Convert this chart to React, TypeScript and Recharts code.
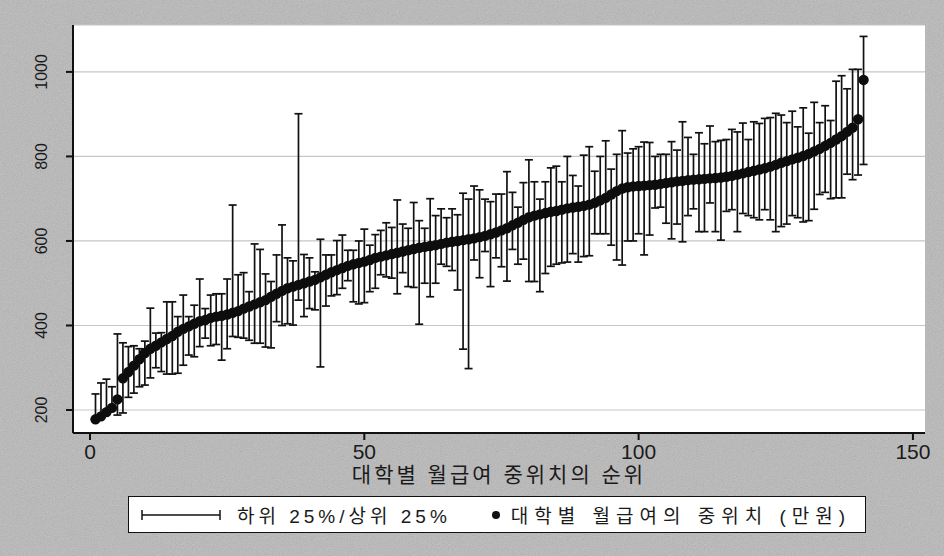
import React from "react";
import { ScatterChart, Scatter, XAxis, YAxis, CartesianGrid, ErrorBar } from "recharts";

// 대학별 월급여 중위치 (만원), 순위 1..141
const medians = [
  178, 185, 195, 205, 225, 275, 290, 305, 320, 335,
  345, 352, 360, 368, 375, 385, 392, 398, 404, 410,
  413, 418, 421, 423, 426, 430, 434, 440, 445, 450,
  455, 460, 468, 475, 482, 488, 492, 496, 500, 504,
  508, 514, 520, 526, 531, 536, 541, 545, 548, 551,
  555, 560, 563, 566, 569, 572, 575, 578, 581, 584,
  586, 588, 590, 593, 596, 598, 600, 602, 604, 606,
  609, 612, 616, 620, 625, 630, 637, 643, 650, 656,
  660, 663, 666, 669, 671, 674, 677, 679, 681, 683,
  686, 690, 696, 702, 710, 718, 724, 727, 729, 730,
  731, 732, 733, 735, 737, 739, 741, 742, 744, 745,
  746, 747, 748, 749, 750, 752, 754, 757, 760, 763,
  766, 769, 772, 776, 780, 785, 789, 793, 797, 801,
  806, 812, 818, 825, 832, 840, 848, 858, 868, 888,
  981,
];

// 하위 25%
const lower = [
  176, 180, 190, 200, 188, 193, 230, 240, 255, 259,
  276, 300, 291, 285, 285, 287, 306, 330, 326, 350,
  370, 352, 355, 318, 345, 374, 372, 370, 365, 358,
  358, 349, 347, 409, 400, 404, 401, 460, 421, 440,
  437, 302, 446, 470, 473, 488, 506, 456, 451, 454,
  480, 488, 520, 515, 512, 475, 525, 492, 490, 403,
  500, 468, 500, 545, 540, 530, 484, 344, 298, 555,
  513, 575, 492, 560, 539, 505, 580, 545, 557, 504,
  504, 480, 523, 540, 545, 548, 550, 570, 550, 563,
  565, 617, 617, 617, 590, 555, 543, 600, 600, 617,
  567, 614, 678, 680, 642, 605, 640, 598, 660, 676,
  622, 622, 690, 622, 602, 670, 674, 622, 665, 660,
  655, 650, 674, 650, 622, 634, 640, 660, 655, 645,
  648, 675, 710, 715, 700, 702, 702, 758, 745, 756,
  781,
];

// 상위 25%
const upper = [
  238, 264, 273, 255, 380, 359, 350, 352, 345, 363,
  441, 382, 383, 456, 456, 421, 472, 421, 448, 510,
  440, 472, 475, 475, 510, 685, 520, 525, 480, 593,
  580, 522, 504, 567, 638, 560, 553, 901, 568, 560,
  527, 604, 567, 567, 601, 614, 578, 578, 600, 628,
  590, 615, 625, 643, 632, 697, 640, 630, 691, 648,
  630, 700, 660, 676, 655, 676, 662, 713, 699, 730,
  721, 699, 693, 711, 711, 764, 715, 680, 738, 792,
  740, 699, 740, 773, 777, 740, 800, 755, 730, 803,
  823, 765, 800, 837, 770, 805, 861, 808, 818, 823,
  834, 833, 800, 805, 805, 835, 815, 882, 845, 805,
  856, 830, 872, 835, 838, 840, 864, 858, 879, 840,
  882, 878, 890, 892, 902, 898, 880, 907, 870, 915,
  855, 928, 880, 920, 885, 978, 991, 960, 1006, 1006,
  1084,
];

const yTicks = [200, 400, 600, 800, 1000];
const xTicks = [0, 50, 100, 150];

const data = medians.map((m, i) => ({
  rank: i + 1,
  median: m,
  err: [m - lower[i], upper[i] - m],
}));

const FONT = "'Liberation Sans', 'Noto Sans CJK KR', sans-serif";

// scanned-paper grain for the outer background
const noiseSvg =
  "<svg xmlns='http://www.w3.org/2000/svg' width='256' height='256'>" +
  "<filter id='n'><feTurbulence type='fractalNoise' baseFrequency='0.9' numOctaves='2' stitchTiles='stitch'/>" +
  "<feColorMatrix type='saturate' values='0'/></filter>" +
  "<rect width='256' height='256' fill='#b8b8b8'/>" +
  "<rect width='256' height='256' filter='url(#n)' opacity='0.4'/></svg>";
const noise = `url("data:image/svg+xml,${encodeURIComponent(noiseSvg)}")`;

function YTick({ x, y, payload }: any) {
  return (
    <text
      x={x - 22}
      y={y}
      transform={`rotate(-90, ${x - 22}, ${y})`}
      textAnchor="middle"
      dominantBaseline="central"
      fontSize={16}
      fontFamily={FONT}
      fill="#1a1a1a"
    >
      {payload.value}
    </text>
  );
}

function Dot({ cx, cy }: any) {
  return <circle cx={cx} cy={cy} r={5.2} fill="#0d0d0d" />;
}

export default function App() {
  return (
    <div
      style={{
        position: "absolute",
        left: 0,
        top: 0,
        width: 944,
        height: 556,
        backgroundColor: "#b8b8b8",
        backgroundImage: noise,
        fontFamily: FONT,
      }}
    >
      <ScatterChart width={944} height={556} margin={{ top: 25, right: 19, bottom: 0, left: 0 }}>
        <CartesianGrid vertical={false} fill="#ffffff" stroke="#c6c6c6" strokeWidth={1.2} />
        <XAxis
          type="number"
          dataKey="rank"
          domain={[-3.1, 152.2]}
          ticks={xTicks}
          allowDataOverflow
          height={123}
          stroke="#111"
          strokeWidth={2}
          tickSize={7}
          tickMargin={4}
          tick={{ fill: "#1a1a1a", fontSize: 21, fontFamily: FONT }}
          label={{
            value: "대학별 월급여 중위치의 순위",
            position: "insideTop",
            offset: 34,
            fill: "#1a1a1a",
            fontSize: 21,
            fontFamily: FONT,
            style: { letterSpacing: 3 },
          }}
        />
        <YAxis
          type="number"
          dataKey="median"
          domain={[145.6, 1111]}
          ticks={yTicks}
          allowDataOverflow
          width={73}
          stroke="#111"
          strokeWidth={2}
          tickSize={7}
          tick={<YTick />}
        />
        <Scatter data={data} fill="#0d0d0d" shape={<Dot />} isAnimationActive={false}>
          <ErrorBar dataKey="err" direction="y" width={4} stroke="#111" strokeWidth={1.7} isAnimationActive={false} />
        </Scatter>
      </ScatterChart>

      {/* legend */}
      <div
        style={{
          position: "absolute",
          left: 128,
          top: 496,
          width: 736,
          height: 35,
          background: "#fff",
          border: "1.5px solid #111",
          display: "flex",
          alignItems: "center",
          fontSize: 19,
          color: "#1a1a1a",
          whiteSpace: "nowrap",
        }}
      >
        <svg width={82} height={14} style={{ marginLeft: 12, flexShrink: 0 }}>
          <line x1={1} y1={7} x2={79} y2={7} stroke="#111" strokeWidth={1.5} />
          <line x1={1} y1={2} x2={1} y2={12} stroke="#111" strokeWidth={1.5} />
          <line x1={79} y1={2} x2={79} y2={12} stroke="#111" strokeWidth={1.5} />
        </svg>
        <span style={{ marginLeft: 14, letterSpacing: 4 }}>하위 25%/상위 25%</span>
        <svg width={10} height={10} style={{ marginLeft: 40, flexShrink: 0 }}>
          <circle cx={5} cy={5} r={4} fill="#111" />
        </svg>
        <span style={{ marginLeft: 10, letterSpacing: 6 }}>대학별 월급여의 중위치 (만원)</span>
      </div>
    </div>
  );
}
